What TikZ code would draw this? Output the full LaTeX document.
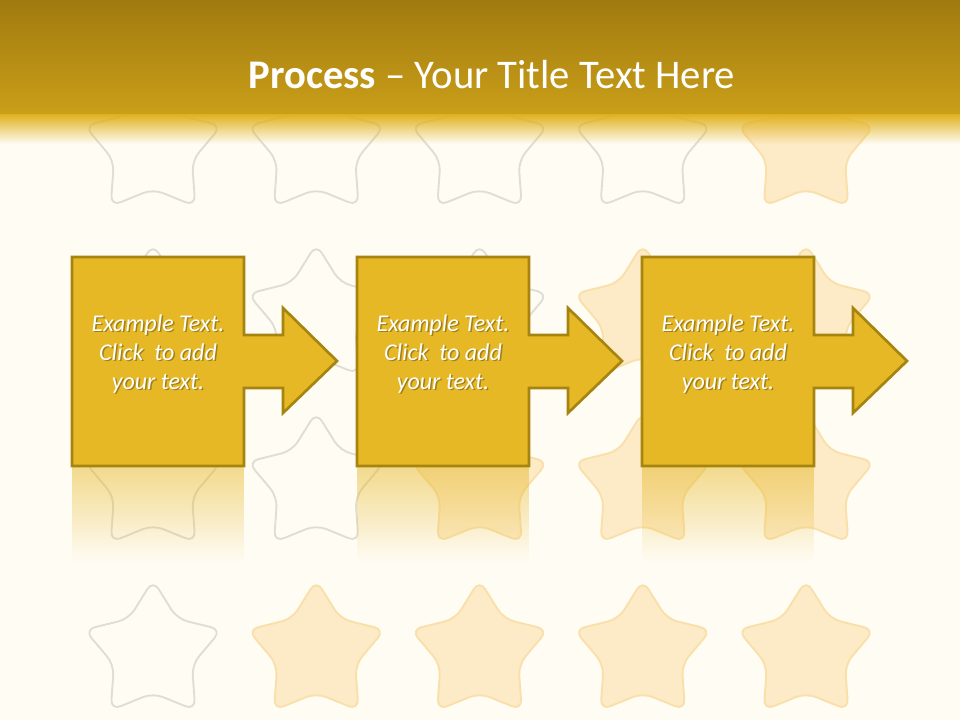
\documentclass[tikz,border=0pt]{standalone}
\usepackage{fontspec}
\setmainfont{Carlito}
\usetikzlibrary{calc,fadings}

\definecolor{slidebg}{RGB}{255,252,244}
\definecolor{hdtop}{RGB}{138,104,10}
\definecolor{hdbot}{RGB}{224,177,30}
\definecolor{stepfill}{RGB}{230,184,38}
\definecolor{stepline}{RGB}{166,132,16}
\definecolor{stargray}{RGB}{224,221,213}
\definecolor{starfill}{RGB}{253,234,198}
\definecolor{starline}{RGB}{249,224,170}

\pgfdeclareverticalshading{hdshade}{100bp}{color(0bp)=(hdbot); color(100bp)=(hdtop)}

\tikzset{
  roundstar/.pic={
    \path[pic actions, rounded corners=8pt]
      ($(-90:72)!.5!(-54:41)$) -- (-54:41) -- (-18:72) -- (18:41) -- (54:72)
      -- (90:41) -- (126:72) -- (162:41) -- (198:72) -- (234:41) -- (270:72) -- cycle;
  },
  emptystar/.style={draw=stargray, line width=1.4pt},
  fullstar/.style={draw=starline, fill=starfill, line width=1.4pt},
  stepbox/.style={fill=stepfill, draw=stepline, line width=2pt, line join=miter},
  steptext/.style={text=white, align=center, font=\itshape\fontsize{18}{21.75}\selectfont},
  titletext/.style={text=white, font=\fontsize{30.5}{37}\selectfont},
}

\begin{document}
\begin{tikzpicture}[x=0.75pt,y=-0.75pt]
  \useasboundingbox (0,0) rectangle (960,720);
  \fill[slidebg] (0,0) rectangle (960,720);

  % stars in the background
  \foreach \r in {1,...,4}
    \foreach \c in {1,...,5}{
      \pgfmathtruncatemacro\s{\r+\c}
      \ifnum\s>5
        \pic[fullstar] at ({153+163.25*(\c-1)},{148+168*(\r-1)}) {roundstar};
      \else
        \pic[emptystar] at ({153+163.25*(\c-1)},{148+168*(\r-1)}) {roundstar};
      \fi
    }

  % title bar
  \shade[shading=hdshade] (0,0) rectangle (960,114.5);
  \fill[hdbot, path fading=south] (0,114) rectangle (960,144);
  \node[titletext] (title) at (492,75) {\textbf{Process} \textendash{} Your Title Text Here};

  % steps
  \foreach \i in {0,1,2}{
    \begin{scope}[shift={(285*\i,0)}]
      \fill[stepfill, fill opacity=.5, path fading=south] (72,467) rectangle (244,562);
      \path[stepbox] (72,257) -- (244,257) -- (244,335) -- (283,335) -- (283,308)
        -- (337,361) -- (283,413) -- (283,388) -- (244,388) -- (244,466) -- (72,466) -- cycle;
      \node[steptext, text=black, text opacity=.3] (shd\i) at (159.5,355.5)
        {Example Text.\\Click~ to add\\your text.};
      \node[steptext] (txt\i) at (158,354) {Example Text.\\Click~ to add\\your text.};
    \end{scope}
  }
\end{tikzpicture}
\end{document}
